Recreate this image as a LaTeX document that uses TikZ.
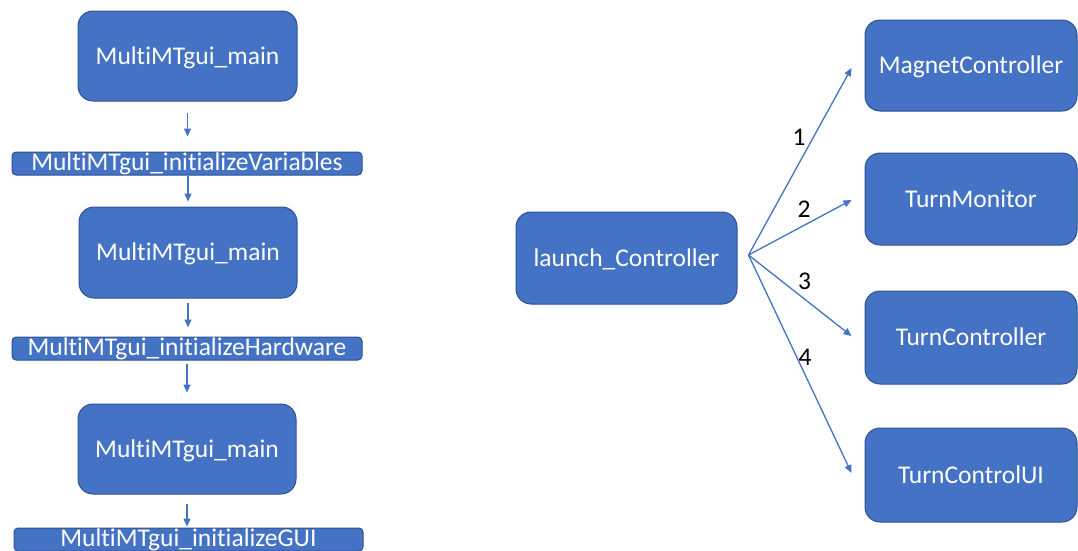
\documentclass[tikz,border=0pt]{standalone}
\usepackage{fontspec}
\setmainfont{Carlito}[Ligatures=NoCommon]
\usetikzlibrary{arrows.meta,calc}
\definecolor{obox}{HTML}{4472C4}
\definecolor{oline}{HTML}{2F528F}
\begin{document}
\begin{tikzpicture}[x=1pt,y=-1pt,
  box/.style={draw=oline, line width=1pt, fill=obox, rounded corners=15pt,
    text=white, font=\fontsize{25.5}{30}\selectfont, inner sep=0pt,
    text height=16pt, text depth=0pt},
  bar/.style={draw=oline, line width=1pt, fill=obox, rounded corners=4pt,
    text=white, font=\fontsize{25.5}{30}\selectfont, inner sep=0pt,
    minimum height=23pt, text height=16pt, text depth=3pt},
  arr/.style={draw=obox, line width=1.3pt, -{Triangle[length=8pt,width=7pt]}},
  num/.style={text=black, font=\fontsize{25.5}{30}\selectfont, inner sep=0pt}]
\useasboundingbox (0,0) rectangle (1078,550);
\clip (0,0) rectangle (1078,550);

% left column
\node[box, minimum width=219pt, minimum height=90pt] (b1) at (187.5,56) {MultiMTgui\_main};
\node[bar, minimum width=350pt] (v1) at (187,163.5) {MultiMTgui\_initializeVariables};
\node[box, minimum width=218pt, minimum height=91pt] (b2) at (188,252.5) {MultiMTgui\_main};
\node[bar, minimum width=350pt] (v2) at (187,348.5) {MultiMTgui\_initializeHardware};
\node[box, minimum width=218pt, minimum height=90pt] (b3) at (187,449) {MultiMTgui\_main};
\node[bar, minimum width=349pt] (v3) at (188.5,539.5) {MultiMTgui\_initializeGUI};

\draw[arr, shorten <=11pt, shorten >=15pt] (b1.south) -- (b1.south |- v1.north);
\draw[arr, shorten >=5pt] (v1.south -| b2.north) -- (b2.north);
\draw[arr, shorten <=4pt, shorten >=9pt] (b2.south) -- (b2.south |- v2.north);
\draw[arr, shorten <=3pt, shorten >=11pt] (v2.south -| b3.north) -- (b3.north);
\draw[arr, shorten <=9pt, shorten >=1pt] (b3.south) -- (b3.south |- v3.north);

% right side
\node[box, minimum width=221pt, minimum height=92pt] (lc) at (626.5,258) {launch\_Controller};
\node[box, minimum width=212pt, minimum height=91pt] (mc) at (971,65.5) {MagnetController};
\node[box, minimum width=212pt, minimum height=92pt] (tm) at (971,199) {TurnMonitor};
\node[box, minimum width=212pt, minimum height=93pt] (tc) at (971,337.5) {TurnController};
\node[box, minimum width=212pt, minimum height=94pt] (tu) at (971,475) {TurnControlUI};

\coordinate (fan) at ([xshift=11pt,yshift=3pt]lc.east);
\draw[arr] (fan) -- ([xshift=-13pt,yshift=-2.5pt]mc.west);
\draw[arr] (fan) -- ([xshift=-13pt,yshift=-1pt]tm.west);
\draw[arr] (fan) -- ([xshift=-13pt,yshift=1.5pt]tc.west);
\draw[arr] (fan) -- ([xshift=-13pt,yshift=2pt]tu.west);

\node[num] (n1) at (799,137) {1};
\node[num] (n2) at (804,209) {2};
\node[num] (n3) at (804.5,281) {3};
\node[num] (n4) at (805,357.5) {4};
\end{tikzpicture}
\end{document}
